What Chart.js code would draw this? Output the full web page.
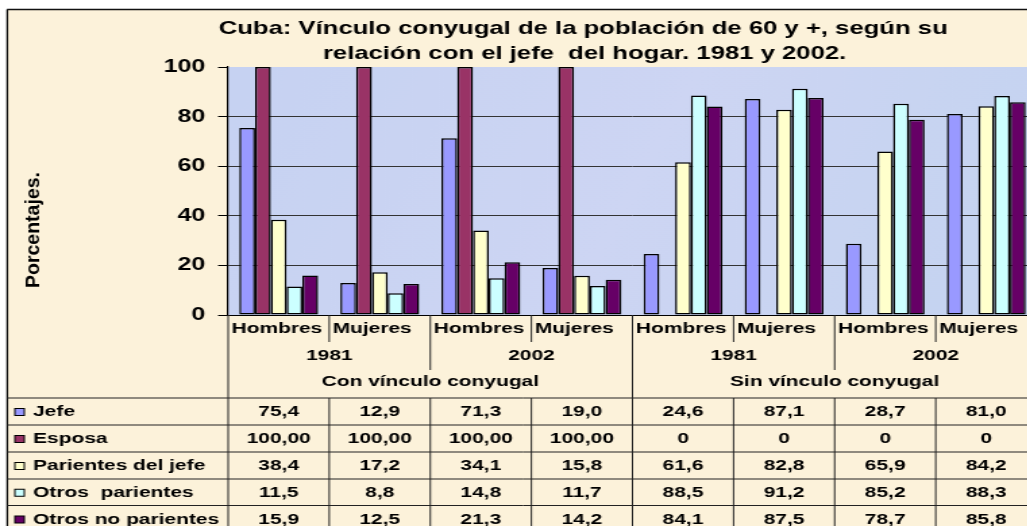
<!DOCTYPE html>
<html>
<head>
<meta charset="utf-8">
<title>Cuba: Vínculo conyugal de la población de 60 y +</title>
<script src="https://cdn.jsdelivr.net/npm/chart.js@4.4.1/dist/chart.umd.min.js"></script>
<style>
  html, body { margin: 0; padding: 0; background: #fff; overflow: hidden; }
  /* el gráfico original está estirado a lo ancho */
  #marco { width: 770px; height: 526px; transform: scaleX(1.35); transform-origin: 0 0; }
</style>
</head>
<body>
<div id="marco"><canvas id="grafico"></canvas></div>
<script>
// datos
const subgrupos = ['Hombres', 'Mujeres', 'Hombres', 'Mujeres', 'Hombres', 'Mujeres', 'Hombres', 'Mujeres'];
const anios = ['1981', '2002', '1981', '2002'];
const vinculos = ['Con vínculo conyugal', 'Sin vínculo conyugal'];
const series = ['Jefe', 'Esposa', 'Parientes del jefe', 'Otros  parientes', 'Otros no parientes'];

const jefe = [75.4, 12.9, 71.3, 19.0, 24.6, 87.1, 28.7, 81.0];
const esposa = [100, 100, 100, 100, 0, 0, 0, 0];
const parientesJefe = [38.4, 17.2, 34.1, 15.8, 61.6, 82.8, 65.9, 84.2];
const otrosParientes = [11.5, 8.8, 14.8, 11.7, 88.5, 91.2, 85.2, 88.3];
const otrosNoParientes = [15.9, 12.5, 21.3, 14.2, 84.1, 87.5, 78.7, 85.8];

const ticksY = [0, 20, 40, 60, 80, 100];

const colores = ['#9999FF', '#993366', '#FFFFCC', '#CCFFFF', '#660066'];
const valores = [jefe, esposa, parientesJefe, otrosParientes, otrosNoParientes];

const FUENTE = 'Arial, "Liberation Sans", sans-serif';

function formato(v, serie) {
  if (v === 0) return '0';
  if (serie === 1) return v.toFixed(2).replace('.', ',');
  return v.toFixed(1).replace('.', ',');
}

function linea(ctx, x1, y1, x2, y2) {
  ctx.beginPath();
  ctx.moveTo(x1, y1);
  ctx.lineTo(x2, y2);
  ctx.stroke();
}

const fondo = {
  id: 'fondo',
  beforeDraw(chart) {
    const { ctx, chartArea: a, width, height } = chart;
    ctx.save();
    ctx.fillStyle = '#ffffff';
    ctx.fillRect(0, 0, width, height);
    ctx.fillStyle = '#FCF2DA';
    ctx.fillRect(5.2, 9.5, width, height);
    ctx.strokeStyle = '#111';
    ctx.lineWidth = 1.3;
    linea(ctx, 5.4, 9.5, 5.4, height);
    linea(ctx, 5.2, 9.5, width, 9.5);
    // área de trazado azulada
    const g = ctx.createLinearGradient(a.left, a.top, a.right, a.bottom);
    g.addColorStop(0, '#C6D2F2');
    g.addColorStop(0.5, '#CDD5F3');
    g.addColorStop(1, '#C3D3F0');
    ctx.fillStyle = g;
    ctx.fillRect(a.left, a.top, a.right - a.left, a.bottom - a.top);
    ctx.restore();
  }
};

const tabla = {
  id: 'tabla',
  afterDraw(chart) {
    const { ctx, chartArea: a, width } = chart;
    const xs = chart.scales.x;
    const n = subgrupos.length;
    const gw = (xs.right - xs.left) / n;
    const borde = i => xs.getPixelForValue(i) - gw / 2;

    ctx.save();
    ctx.fillStyle = '#000';

    // título
    ctx.font = 'bold 19px ' + FUENTE;
    ctx.textAlign = 'center';
    ctx.textBaseline = 'middle';
    ctx.fillText('Cuba: Vínculo conyugal de la población de 60 y +, según su', 432, 29);
    ctx.fillText('relación con el jefe  del hogar. 1981 y 2002.', 433, 54);

    // título del eje y
    ctx.save();
    ctx.translate(24.5, 230);
    ctx.rotate(-Math.PI / 2);
    ctx.scale(1.3, 1);
    ctx.font = 'bold 15px ' + FUENTE;
    ctx.fillText('Porcentajes.', 0, 0);
    ctx.restore();

    // etiquetas de categorías en tres niveles
    const y0 = a.bottom;
    ctx.strokeStyle = '#222';
    ctx.lineWidth = 1;
    ctx.font = 'bold 15.5px ' + FUENTE;
    ctx.textAlign = 'left';
    subgrupos.forEach((s, i) => ctx.fillText(s, borde(i) + 2.5, 328.5));
    ctx.textAlign = 'center';
    anios.forEach((s, j) => ctx.fillText(s, (borde(2 * j) + borde(2 * j + 2)) / 2, 356));
    vinculos.forEach((s, k) => ctx.fillText(s, (borde(4 * k) + borde(4 * k + 4)) / 2, 382));

    for (let i = 0; i <= n; i++) {
      let fin = 342;
      if (i % 2 === 0) fin = 370;
      if (i % 4 === 0) fin = 398;
      linea(ctx, borde(i), y0, borde(i), fin);
    }

    // tabla de datos
    const filas = [398, 425, 452, 479, 505.5, 532.5];
    filas.forEach(y => linea(ctx, 5.2, y, width, y));
    for (let i = 0; i <= n; i++) linea(ctx, borde(i), filas[0], borde(i), filas[5]);

    series.forEach((nombre, k) => {
      const yc = (filas[k] + filas[k + 1]) / 2 + 0.5;
      ctx.fillStyle = colores[k];
      ctx.fillRect(11, yc - 3.5, 7, 7);
      ctx.strokeStyle = '#000';
      ctx.strokeRect(11, yc - 3.5, 7, 7);
      ctx.fillStyle = '#000';
      ctx.textAlign = 'left';
      ctx.fillText(nombre, 24.5, yc);
      ctx.textAlign = 'center';
      valores[k].forEach((v, i) => ctx.fillText(formato(v, k), xs.getPixelForValue(i), yc));
    });
    ctx.restore();
  }
};

new Chart(document.getElementById('grafico'), {
  type: 'bar',
  data: {
    labels: subgrupos,
    datasets: series.map((s, k) => ({
      label: s,
      data: valores[k],
      backgroundColor: colores[k],
      borderColor: '#000',
      borderWidth: 1.5,
      borderSkipped: false,
      categoryPercentage: 0.78,
      barPercentage: 1
    }))
  },
  options: {
    responsive: true,
    maintainAspectRatio: false,
    animation: false,
    layout: { padding: { left: 0, right: 2, top: 67, bottom: 211 } },
    plugins: {
      legend: { display: false },
      tooltip: { enabled: false },
      title: { display: false }
    },
    scales: {
      x: { display: false },
      y: {
        min: 0,
        max: 100,
        afterBuildTicks: s => { s.ticks = ticksY.map(v => ({ value: v })); },
        afterFit: s => { s.width = 169; },
        ticks: {
          color: '#000',
          padding: 9.5,
          font: { family: FUENTE, size: 18.5, weight: 'bold' }
        },
        grid: {
          color: c => c.tick.value === 100 ? 'rgba(0,0,0,0)' : (c.tick.value === 0 ? '#000' : '#333'),
          tickColor: '#000',
          tickLength: 7.5,
          lineWidth: 1
        },
        border: { color: '#000', width: 1.2 }
      }
    }
  },
  plugins: [fondo, tabla]
});
</script>
</body>
</html>
